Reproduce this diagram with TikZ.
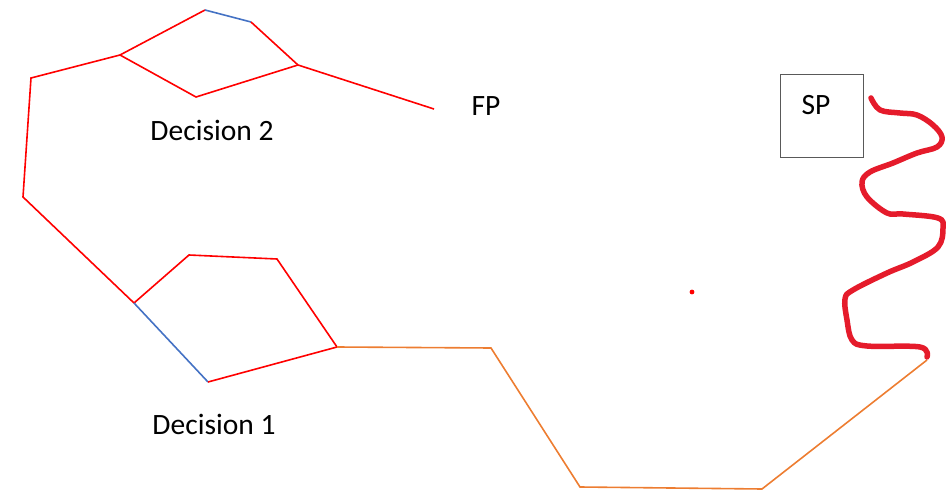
\documentclass[tikz,border=0pt]{standalone}
\usepackage{fontspec}
\setmainfont{Carlito}
\definecolor{lnred}{HTML}{FF0000}
\definecolor{lnblue}{HTML}{4472C4}
\definecolor{lnorange}{HTML}{ED7D31}
\definecolor{squig}{HTML}{E51B2B}
\begin{document}
\begin{tikzpicture}[x=1pt,y=-1pt,
  redln/.style={draw=lnred,line width=1.6pt},
  blueln/.style={draw=lnblue,line width=1.6pt},
  orangeln/.style={draw=lnorange,line width=1.6pt},
  lbl/.style={font=\fontsize{29.5pt}{34pt}\selectfont,anchor=base,inner sep=0pt}]
\useasboundingbox (0,0) rectangle (948,492);
% vertices
\coordinate (a1) at (31,78);
\coordinate (a2) at (23,197);
\coordinate (b1) at (120,55);
\coordinate (b2) at (205,10);
\coordinate (b3) at (251,22);
\coordinate (b4) at (298,65);
\coordinate (b5) at (196,97);
\coordinate (b6) at (434,109);
\coordinate (c1) at (134,303);
\coordinate (c2) at (189,255);
\coordinate (c3) at (277,259);
\coordinate (c4) at (337,347);
\coordinate (c5) at (208,382);
\coordinate (d1) at (491,348);
\coordinate (d2) at (580,487);
\coordinate (d3) at (762,489);
\coordinate (d4) at (927,360);
% red path top
\draw[redln] (b1) -- (a1) -- (a2) -- (c1);
\draw[redln] (b1) -- (b2);
\draw[blueln] (b2) -- (b3);
\draw[redln] (b3) -- (b4) -- (b6);
\draw[redln] (b1) -- (b5) -- (b4);
% lower loop
\draw[redln] (c1) -- (c2) -- (c3) -- (c4);
\draw[blueln] (c1) -- (c5);
\draw[redln] (c5) -- (c4);
% orange
\draw[orangeln] (c4) -- (d1) -- (d2) -- (d3) -- (d4);
% labels
\node[lbl] (dec2) at (212,141) {Decision 2};
\node[lbl] (dec1) at (214,434) {Decision 1};
\node[lbl] (fp) at (486,116) {FP};
\node[draw=black!65,line width=1pt,minimum width=83pt,minimum height=83pt,inner sep=0pt] (spbox) at (821.5,116.5) {};
\node[lbl] (sp) at (816,115) {SP};
% dot
\fill[lnred] (692,292) circle (2.4pt);
% squiggle
\draw[squig,line width=5.5pt,line cap=round,line join=round]
  plot[smooth,tension=0.6] coordinates {
  (871,98) (880,110) (900,113) (917,115) (933,125) (942,137) (937,147)
  (917,153) (893,163) (870,172) (862,182) (867,197) (887,213) (903,214)
  (938,218) (943,228) (938,247) (913,262) (887,273) (853,290) (845,299)
  (847,320) (852,340) (867,346) (920,347) (927,357)};
\end{tikzpicture}
\end{document}
